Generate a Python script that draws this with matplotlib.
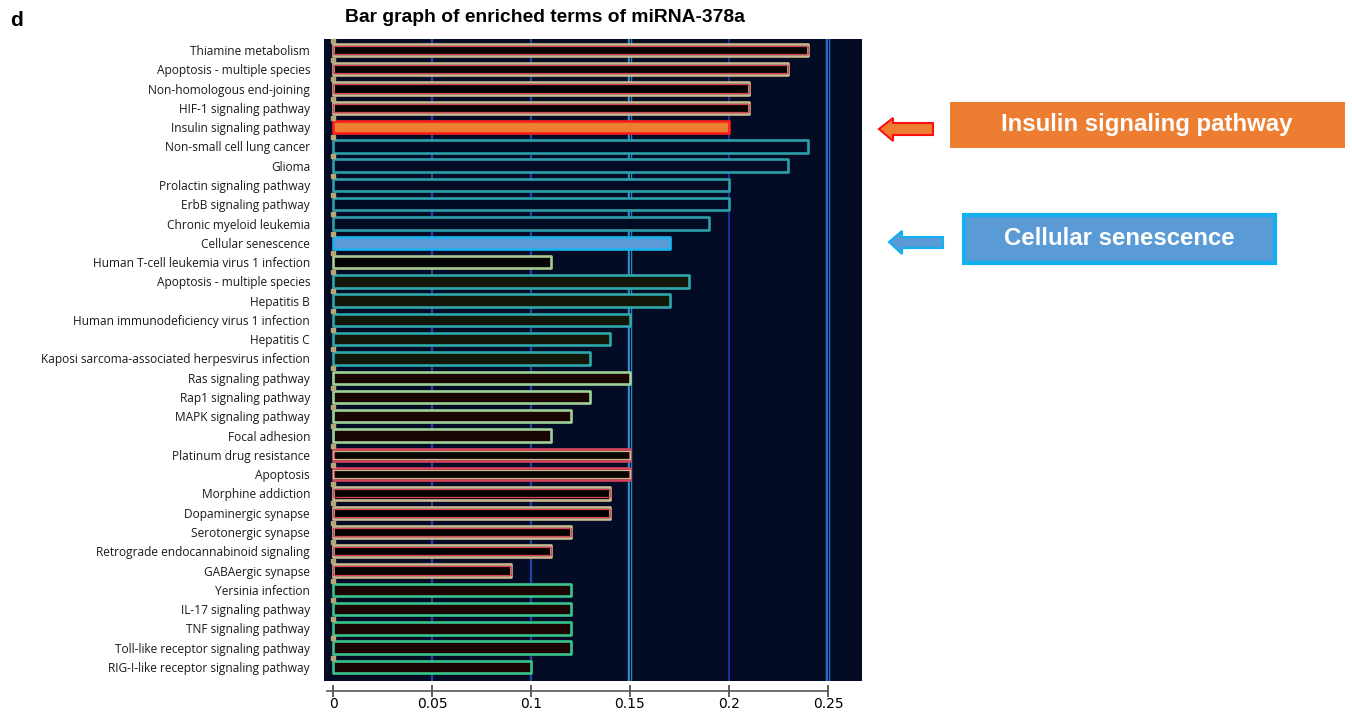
import numpy as np
import matplotlib.pyplot as plt
from matplotlib.patches import Rectangle, Polygon

terms = [
    'Thiamine metabolism', 'Apoptosis - multiple species', 'Non-homologous end-joining',
    'HIF-1 signaling pathway', 'Insulin signaling pathway', 'Non-small cell lung cancer',
    'Glioma', 'Prolactin signaling pathway', 'ErbB signaling pathway',
    'Chronic myeloid leukemia', 'Cellular senescence', 'Human T-cell leukemia virus 1 infection',
    'Apoptosis - multiple species', 'Hepatitis B', 'Human immunodeficiency virus 1 infection',
    'Hepatitis C', 'Kaposi sarcoma-associated herpesvirus infection', 'Ras signaling pathway',
    'Rap1 signaling pathway', 'MAPK signaling pathway', 'Focal adhesion',
    'Platinum drug resistance', 'Apoptosis', 'Morphine addiction',
    'Dopaminergic synapse', 'Serotonergic synapse', 'Retrograde endocannabinoid signaling',
    'GABAergic synapse', 'Yersinia infection', 'IL-17 signaling pathway',
    'TNF signaling pathway', 'Toll-like receptor signaling pathway', 'RIG-I-like receptor signaling pathway',
]
ratios = [
    0.24, 0.23, 0.21, 0.21, 0.20, 0.24, 0.23, 0.20, 0.20, 0.19, 0.17,
    0.11, 0.18, 0.17, 0.15, 0.14, 0.13, 0.15, 0.13, 0.12, 0.11,
    0.15, 0.15, 0.14, 0.14, 0.12, 0.11, 0.09, 0.12, 0.12, 0.12, 0.12, 0.10,
]
# colour group of every bar (as exported from the enrichment tool)
groups = ['a', 'a', 'a', 'a', 'ins', 'b', 'b', 'b', 'b', 'b', 'sen',
          'c', 'd', 'd', 'd', 'd', 'd', 'e', 'e', 'e', 'e',
          'f', 'f', 'a', 'a', 'a', 'a', 'a', 'g', 'g', 'g', 'g', 'g']
xticks = [0, 0.05, 0.1, 0.15, 0.2, 0.25]
xticklabels = ['0', '0.05', '0.1', '0.15', '0.2', '0.25']

BG = '#030b25'
# group -> (outer edge, inner edge, fill)
styles = {
    'a': ('#c9b98f', '#d8435c', '#020202'),
    'ins': ('#ff1e1e', None, '#ed7d31'),
    'b': ('#2ba0aa', None, BG),
    'sen': ('#1db2ee', None, '#5b9bd5'),
    'c': ('#a9c993', None, '#050505'),
    'd': ('#2ea7aa', None, '#12170a'),
    'e': ('#9fd197', None, '#190604'),
    'f': ('#d8435c', '#c9b98f', '#080404'),
    'g': ('#37c48c', None, '#1c0404'),
}

W, H = 1352, 714
fig = plt.figure(figsize=(W / 100, H / 100), dpi=100)
ax = fig.add_axes([324 / W, 33 / H, 538 / W, 642 / H])
ax.set_facecolor(BG)

ypos = np.arange(len(terms))

# vertical grid lines
grid_style = {0.05: ('#1f45a8', 1.6), 0.1: ('#1f45a8', 1.6), 0.15: ('#2b8cc4', 3.2),
              0.2: ('#1c2fa0', 1.4), 0.25: ('#2a72d0', 3.2)}
for xv in xticks[1:]:
    c, lw = grid_style[xv]
    ax.axvline(xv, color=c, lw=lw, zorder=0.5)
    if lw > 3:
        ax.axvline(xv, color=BG, lw=0.8, zorder=0.6)

for y, v, g in zip(ypos, ratios, groups):
    outer, inner, fill = styles[g]
    ax.barh(y, v, height=0.64, color=fill, edgecolor=outer, linewidth=1.9,
            joinstyle='round', zorder=2)
    if inner:
        ax.barh(y, v, height=0.42, color='none', edgecolor=inner, linewidth=0.9,
                zorder=2.5)

# small tick-like marks at the origin between the bars
ax.scatter(np.zeros(len(terms)), ypos - 0.48, marker='s', s=9, color='#b5a778',
           zorder=3, clip_on=False)

ax.set_xlim(-0.00455, 0.2672)
ax.set_ylim(len(terms) - 0.27, -0.57)
ax.set_yticks(ypos)
ax.set_yticklabels(terms, fontfamily='Open Sans', fontsize=8.6, color='#1a1a1a')
ax.tick_params(axis='y', length=0, pad=10)
ax.set_xticks(xticks)
ax.set_xticklabels(xticklabels, fontfamily='Open Sans', fontsize=11, color='#1a1a1a')
ax.tick_params(axis='x', direction='inout', length=9, width=1.2, color='#444444', pad=0)

for s in ['top', 'right', 'left']:
    ax.spines[s].set_visible(False)
ax.spines['bottom'].set_position(('outward', 7))
ax.spines['bottom'].set_bounds(-0.003, 0.25)
ax.spines['bottom'].set_color('#555555')
ax.spines['bottom'].set_linewidth(1.2)

fig.text(10 / W, 1 - 20 / H, 'd', fontfamily='Liberation Sans', fontweight='bold',
         fontsize=15, ha='left', va='center')
fig.text(545 / W, 1 - 17 / H, 'Bar graph of enriched terms of miRNA-378a',
         fontfamily='Liberation Sans', fontweight='bold', fontsize=13.9,
         ha='center', va='center')


def px(points):
    return [(x / W, 1 - y / H) for x, y in points]


# callout boxes
fig.patches.append(Rectangle((950 / W, 1 - 148 / H), 395 / W, 46 / H,
                             transform=fig.transFigure, facecolor='#ed7d31',
                             edgecolor='none'))
fig.text(1147 / W, 1 - 125 / H, 'Insulin signaling pathway', color='white',
         fontfamily='Liberation Sans', fontweight='bold', fontsize=17.3,
         ha='center', va='center')
fig.patches.append(Rectangle((964 / W, 1 - 263 / H), 311 / W, 48 / H,
                             transform=fig.transFigure, facecolor='#5b9bd5',
                             edgecolor='#12b0f0', linewidth=3))
fig.text(1119 / W, 1 - 239 / H, 'Cellular senescence', color='white',
         fontfamily='Liberation Sans', fontweight='bold', fontsize=17.3,
         ha='center', va='center')

# arrows
fig.patches.append(Polygon(px([(879, 129), (893, 118), (893, 123), (933, 123),
                               (933, 135), (893, 135), (893, 141)]),
                           closed=True, transform=fig.transFigure,
                           facecolor='#ed7d31', edgecolor='#ff1010', linewidth=1.5))
fig.patches.append(Polygon(px([(889, 242), (902, 231), (902, 237), (943, 237),
                               (943, 248), (902, 248), (902, 254)]),
                           closed=True, transform=fig.transFigure,
                           facecolor='#5b9bd5', edgecolor='#12b0f0', linewidth=1.5))

fig.savefig('out.png', dpi=100, facecolor='white')
